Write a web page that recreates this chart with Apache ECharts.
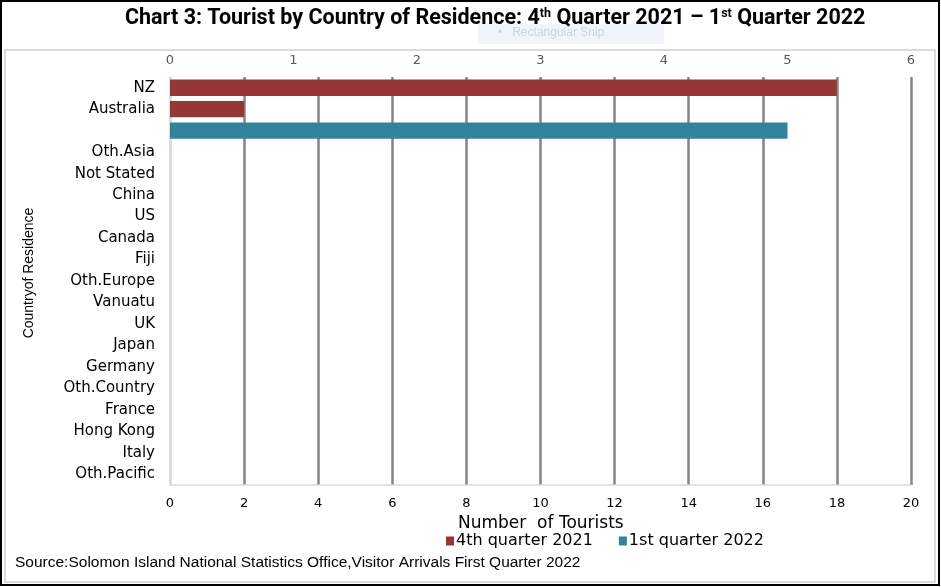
<!DOCTYPE html>
<html><head><meta charset="utf-8">
<script src="https://cdn.jsdelivr.net/npm/echarts@6/dist/echarts.min.js"></script>
<style>html,body{margin:0;padding:0;background:#fff}#c{width:941px;height:587px}</style>
</head><body><div id="c"></div>
<script>
var categories = ['NZ','Australia','','Oth.Asia','Not Stated','China','US','Canada','Fiji','Oth.Europe','Vanuatu','UK','Japan','Germany','Oth.Country','France','Hong Kong','Italy','Oth.Pacific'];
var q4_2021 = [18, 2, null, null, null, null, null, null, null, null, null, null, null, null, null, null, null, null, null];
var q1_2022 = [null, null, 5, null, null, null, null, null, null, null, null, null, null, null, null, null, null, null, null];
var bottomTicks = [0, 20, 2];
var topTicks = [0, 6, 1];

var sans = "'Liberation Sans',Arial,sans-serif";
var wide = "'DejaVu Sans',Verdana,sans-serif";
var chart = echarts.init(document.getElementById('c'));
var gridColors = ['#d9d9d9'];
for (var i = 0; i < 10; i++) gridColors.push('#858585');

chart.setOption({
  animation: false,
  graphic: [
    {type:'rect', shape:{x:1,y:1,width:938,height:584}, style:{fill:'none', stroke:'#000', lineWidth:2}, z:100},
    {type:'rect', shape:{x:5,y:50,width:930,height:532}, style:{fill:'none', stroke:'#cfcfcf', lineWidth:1.5}, z:100},
    {type:'rect', shape:{x:478,y:24,width:186,height:20}, style:{fill:'#f1f5fb'}, z:-1},
    {type:'text', left:498, top:27, style:{text:'•   Rectangular Snip', fill:'#cdd3dd', font:"12px "+sans}, z:-1},
    {type:'text', left:125, top:7, style:{
      text:'{t|Chart 3: Tourist by Country of Residence: 4}{s|th}{t| Quarter 2021 – 1}{s|st}{t| Quarter 2022}',
      rich:{
        t:{fontSize:21.5, fontFamily:"Roboto,sans-serif", fontWeight:'bold', color:'#000'},
        s:{fontSize:12.5, fontFamily:"Roboto,sans-serif", fontWeight:'bold', color:'#000', verticalAlign:'top', padding:[0,0,10,0]}
      }}},
    {type:'text', x:29, y:273, rotation:Math.PI/2, style:{text:'Countryof Residence', fill:'#000', font:"14px "+sans, align:'center', verticalAlign:'middle'}},
    {type:'text', left:458, top:515, style:{text:'Number  of Tourists', fill:'#000', font:"17px "+wide}},
    {type:'text', left:15, top:555, style:{text:'Source:Solomon Island National Statistics Office,Visitor Arrivals First Quarter 2022', fill:'#000', font:"15.5px "+sans}}
  ],
  legend: {
    left: 446, top: 533, padding: 0, itemWidth: 8, itemHeight: 9, itemGap: 26, icon: 'rect',
    textStyle: {fontFamily: wide, fontSize: 16, color: '#000', padding:[0,0,0,-3]},
    data: ['4th quarter 2021','1st quarter 2022']
  },
  grid: {left: 170, right: 30, top: 77, bottom: 102},
  xAxis: [
    {type:'value', position:'bottom', min:bottomTicks[0], max:bottomTicks[1], interval:bottomTicks[2],
     axisLine:{show:true, lineStyle:{color:'#d9d9d9', width:1.5}}, axisTick:{show:false},
     axisLabel:{color:'#000', fontFamily:wide, fontSize:13, margin:12},
     splitLine:{show:true, lineStyle:{color:gridColors, width:2.5}}},
    {type:'value', position:'top', min:topTicks[0], max:topTicks[1], interval:topTicks[2],
     axisLine:{show:false}, axisTick:{show:false},
     axisLabel:{color:'#595959', fontFamily:wide, fontSize:13, margin:10},
     splitLine:{show:false}}
  ],
  yAxis: [{
    type:'category', data:categories, inverse:true,
    axisLine:{show:true, lineStyle:{color:'#d9d9d9', width:1.5}}, axisTick:{show:false},
    axisLabel:{color:'#000', fontFamily:wide, fontSize:15, margin:15, interval:0},
    splitLine:{show:false}
  }],
  series: [
    {name:'4th quarter 2021', type:'bar', xAxisIndex:0, data:q4_2021, barWidth:'76%', barGap:'-100%', itemStyle:{color:'#953735'}},
    {name:'1st quarter 2022', type:'bar', xAxisIndex:1, data:q1_2022, barWidth:'76%', barGap:'-100%', itemStyle:{color:'#31849b'}}
  ]
});
</script></body></html>
